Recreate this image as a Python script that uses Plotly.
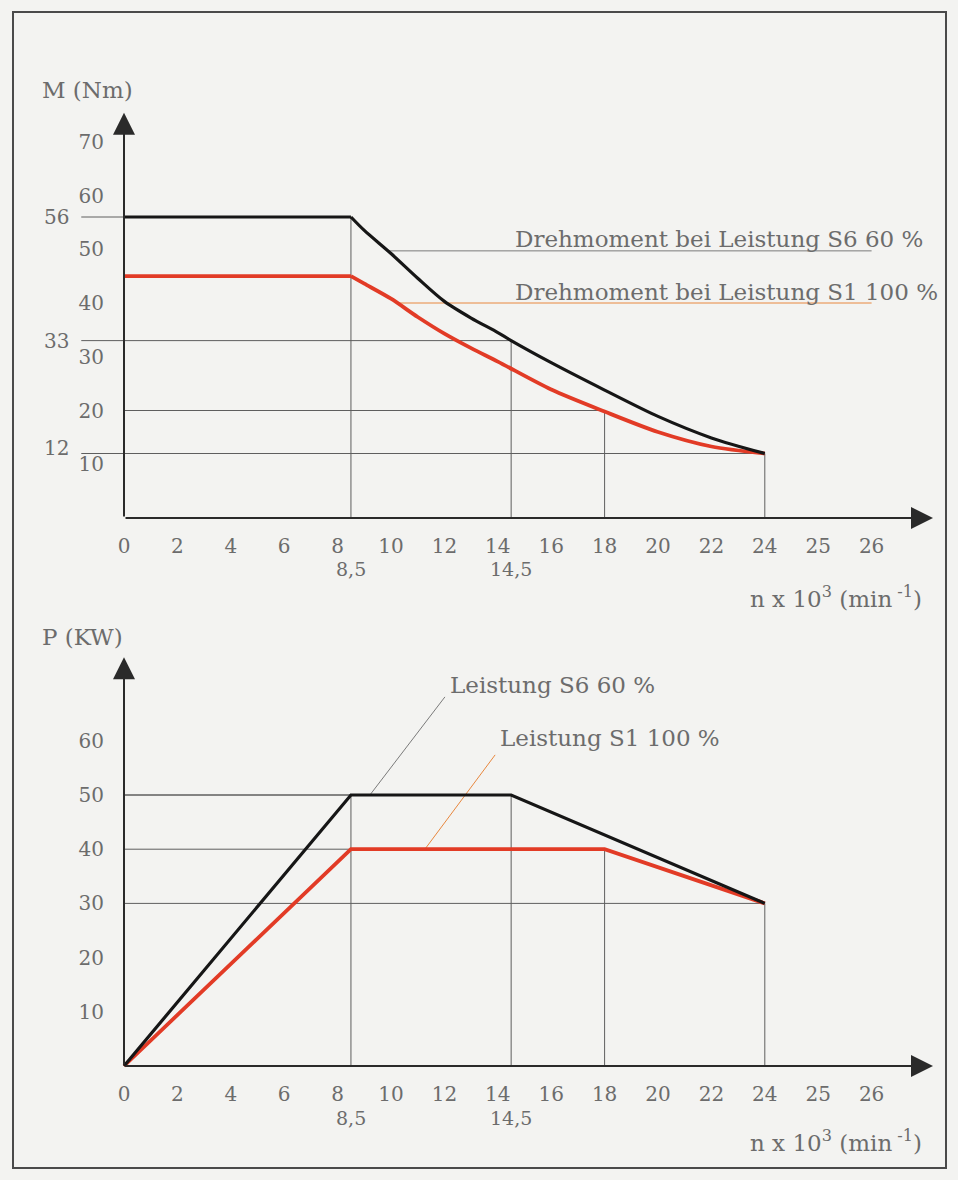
import plotly.graph_objects as go

# ---------------- data ----------------
x_tick_labels = ["0", "2", "4", "6", "8", "10", "12", "14", "16", "18", "20", "22", "24", "25", "26"]
x_sub_labels = ["8,5", "14,5"]
x_sub_vals = [8.5, 14.5]

m_tick_vals = [10, 20, 30, 40, 50, 60, 70]
p_tick_vals = [10, 20, 30, 40, 50, 60]

# Drehmoment (torque) curves, n in 10^3 min^-1, M in Nm
m_s6_n = [0, 8.5, 9, 10, 11, 12, 13, 14, 14.5, 16, 18, 20, 22, 24]
m_s6_M = [56, 56, 53.5, 49.2, 44.6, 40.3, 37.2, 34.5, 33, 28.9, 23.8, 18.9, 14.9, 12]
m_s1_n = [0, 8.5, 9, 10, 11, 12, 13, 14, 16, 18, 20, 22, 24]
m_s1_M = [45, 45, 43.6, 40.8, 37.4, 34.3, 31.6, 29.1, 23.9, 19.8, 16.0, 13.3, 12]

# Leistung (power) curves, P in kW
p_s6_n = [0, 8.5, 14.5, 24]
p_s6_P = [0, 50, 50, 30]
p_s1_n = [0, 8.5, 18, 24]
p_s1_P = [0, 40, 40, 30]

# marked reference points
m_ref_n = [8.5, 14.5, 18, 24]
m_ref_M = [56, 33, 20, 12]
m_ref_labels = ["56", "33", "", "12"]
p_ref_n = [8.5, 14.5, 18, 24]
p_ref_P = [50, 50, 40, 30]

# ---------------- styling / layout constants ----------------
W, H = 958, 1180
FONT = "DejaVu Serif"
TXT = "#6c6c6c"
BLACK = "#161616"
RED = "#e23b26"
ORANGE = "#e8873e"
REFC = "#5e5e5e"

N0_PX, PX_N = 124, 26.7
X_MIN, X_MAX = -4, 30.6
X_DOM = [(N0_PX + X_MIN * PX_N) / W, (N0_PX + X_MAX * PX_N) / W]

Y_MIN, Y_MAX = -3, 80
T0_PX, PX_T = 518, 5.375     # top chart
B0_PX, PX_B = 1066, 5.42     # bottom chart


def ydom(zero_px, scale):
    return [1 - (zero_px - Y_MIN * scale) / H, 1 - (zero_px - Y_MAX * scale) / H]


x_tick_pos = [2 * i for i in range(len(x_tick_labels))]

fig = go.Figure()


def add_torque(ns, ms, color, width, name):
    k = ns.index(8.5)
    # constant-torque part (straight)
    fig.add_trace(go.Scatter(x=ns[:k + 1], y=ms[:k + 1], mode="lines",
                             line=dict(color=color, width=width),
                             xaxis="x", yaxis="y", name=name))
    # field-weakening part (smooth curve)
    fig.add_trace(go.Scatter(x=ns[k:], y=ms[k:], mode="lines",
                             line=dict(color=color, width=width, shape="spline", smoothing=0.8),
                             xaxis="x", yaxis="y", name=name))


add_torque(m_s1_n, m_s1_M, RED, 3.8, "Drehmoment S1 100 %")
add_torque(m_s6_n, m_s6_M, BLACK, 3.2, "Drehmoment S6 60 %")

fig.add_trace(go.Scatter(x=p_s1_n, y=p_s1_P, mode="lines", line=dict(color=RED, width=3.8),
                         xaxis="x2", yaxis="y2", name="Leistung S1 100 %"))
fig.add_trace(go.Scatter(x=p_s6_n, y=p_s6_P, mode="lines", line=dict(color=BLACK, width=3.2),
                         xaxis="x2", yaxis="y2", name="Leistung S6 60 %"))

shapes = []
annotations = []

# reference lines, top chart
for n, m, lab in zip(m_ref_n, m_ref_M, m_ref_labels):
    x_start = -1.6 if lab else 0
    shapes.append(dict(type="line", xref="x", yref="y", x0=x_start, x1=n, y0=m, y1=m,
                       line=dict(color=REFC, width=1), layer="below"))
    shapes.append(dict(type="line", xref="x", yref="y", x0=n, x1=n, y0=m, y1=0,
                       line=dict(color=REFC, width=1), layer="below"))
    if lab:
        annotations.append(dict(xref="paper", yref="y", x=71 / W, y=m, text=lab,
                                xanchor="right", yanchor="middle", showarrow=False,
                                yshift=6 if m < 20 else 0,
                                font=dict(family=FONT, size=20, color=TXT)))

# reference lines, bottom chart
for n, p in zip(p_ref_n, p_ref_P):
    shapes.append(dict(type="line", xref="x2", yref="y2", x0=0, x1=n, y0=p, y1=p,
                       line=dict(color=REFC, width=1), layer="below"))
    shapes.append(dict(type="line", xref="x2", yref="y2", x0=n, x1=n, y0=p, y1=0,
                       line=dict(color=REFC, width=1), layer="below"))

# leader lines
shapes.append(dict(type="line", xref="x", yref="y", x0=9.9, x1=28.0, y0=49.7, y1=49.7,
                   line=dict(color="#7a7a7a", width=1), layer="below"))
shapes.append(dict(type="line", xref="x", yref="y", x0=10.26, x1=28.0, y0=40, y1=40,
                   line=dict(color=ORANGE, width=1), layer="below"))
shapes.append(dict(type="line", xref="x2", yref="y2", x0=12.02, x1=9.21, y0=68.1, y1=50,
                   line=dict(color="#7a7a7a", width=1), layer="below"))
shapes.append(dict(type="line", xref="x2", yref="y2", x0=13.9, x1=11.27, y0=57.4, y1=40,
                   line=dict(color=ORANGE, width=1), layer="below"))

# frame
shapes.append(dict(type="rect", xref="paper", yref="paper", x0=13 / W, x1=946 / W,
                   y0=1 - 1168 / H, y1=1 - 12 / H, line=dict(color="#4a4a4a", width=2),
                   layer="below"))

labfont = dict(family=FONT, size=23, color=TXT)
annotations += [
    dict(xref="x", yref="y", x=14.57, y=51.9, text="Drehmoment bei Leistung S6 60 %",
         xanchor="left", yanchor="middle", showarrow=False, font=labfont),
    dict(xref="x", yref="y", x=14.57, y=42.1, text="Drehmoment bei Leistung S1 100 %",
         xanchor="left", yanchor="middle", showarrow=False, font=labfont),
    dict(xref="x2", yref="y2", x=12.13, y=70.3, text="Leistung S6 60 %",
         xanchor="left", yanchor="middle", showarrow=False, font=labfont),
    dict(xref="x2", yref="y2", x=13.99, y=60.5, text="Leistung S1 100 %",
         xanchor="left", yanchor="middle", showarrow=False, font=labfont),
    dict(xref="paper", yref="paper", x=40 / W, y=1 - 90 / H, text="M (Nm)",
         xanchor="left", yanchor="middle", showarrow=False, font=labfont),
    dict(xref="paper", yref="paper", x=40 / W, y=1 - 637 / H, text="P (KW)",
         xanchor="left", yanchor="middle", showarrow=False, font=labfont),
    dict(xref="paper", yref="paper", x=924 / W, y=1 - 597 / H,
         text="n x 10<sup>3</sup> (min<sup> -1</sup>)",
         xanchor="right", yanchor="middle", showarrow=False,
         font=dict(family=FONT, size=23, color=TXT)),
    dict(xref="paper", yref="paper", x=924 / W, y=1 - 1141 / H,
         text="n x 10<sup>3</sup> (min<sup> -1</sup>)",
         xanchor="right", yanchor="middle", showarrow=False,
         font=dict(family=FONT, size=23, color=TXT)),
]

# secondary x labels (8,5 and 14,5)
for xr, ypx in (("x", 569), ("x2", 1118)):
    for v, lab in zip(x_sub_vals, x_sub_labels):
        annotations.append(dict(xref=xr, yref="paper", x=v, y=1 - ypx / H, text=lab,
                                xanchor="center", yanchor="middle", showarrow=False,
                                font=dict(family=FONT, size=19, color=TXT)))

# axis arrows
for xr, yr in (("x", "y"), ("x2", "y2")):
    annotations.append(dict(xref=xr, yref=yr, axref=xr, ayref=yr, x=30.3, y=0, ax=0, ay=0,
                            text="", showarrow=True, arrowhead=2, arrowsize=2.2,
                            arrowwidth=2, arrowcolor="#2a2a2a"))
    annotations.append(dict(xref=xr, yref=yr, axref=xr, ayref=yr, x=0, y=75.4, ax=0, ay=0,
                            text="", showarrow=True, arrowhead=2, arrowsize=2.2,
                            arrowwidth=2, arrowcolor="#2a2a2a"))


def xaxis(pos):
    return dict(domain=X_DOM, range=[X_MIN, X_MAX], anchor="free", position=pos,
                tickmode="array", tickvals=x_tick_pos, ticktext=x_tick_labels,
                ticks="outside", ticklen=10, tickcolor="rgba(0,0,0,0)",
                showline=False, showgrid=False, zeroline=False, fixedrange=True,
                tickfont=dict(family=FONT, size=20, color=TXT))


def yaxis(dom, vals):
    return dict(domain=dom, range=[Y_MIN, Y_MAX], anchor="free", position=N0_PX / W,
                tickmode="array", tickvals=vals, ticktext=[str(v) for v in vals],
                ticks="outside", ticklen=16, tickcolor="rgba(0,0,0,0)",
                showline=False, showgrid=False, zeroline=False, fixedrange=True,
                tickfont=dict(family=FONT, size=20, color=TXT))


fig.update_layout(
    width=W, height=H, autosize=False,
    margin=dict(l=0, r=0, t=0, b=0),
    paper_bgcolor="#f3f3f1", plot_bgcolor="rgba(0,0,0,0)",
    showlegend=False, hovermode=False,
    xaxis=xaxis(1 - T0_PX / H),
    yaxis=yaxis(ydom(T0_PX, PX_T), m_tick_vals),
    xaxis2=xaxis(1 - B0_PX / H),
    yaxis2=yaxis(ydom(B0_PX, PX_B), p_tick_vals),
    shapes=shapes, annotations=annotations,
)

fig.write_html("out.html", config={"displayModeBar": False},
               post_script="document.body.style.margin='0px';document.body.style.overflow='hidden';")
